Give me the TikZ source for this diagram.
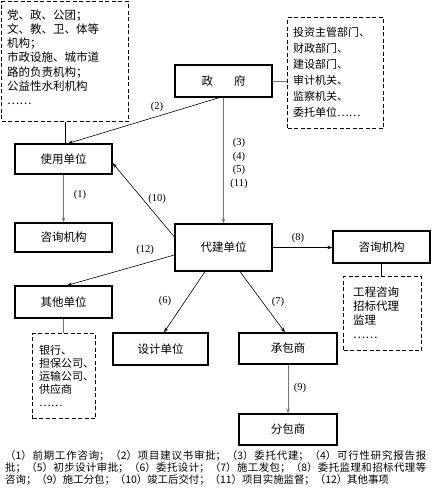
\documentclass[tikz,border=0pt]{standalone}
\usepackage{fontspec}
\setmainfont{Liberation Serif}
\newfontfamily\cjk{Noto Sans CJK SC}
\usetikzlibrary{arrows.meta,calc}
\XeTeXlinebreaklocale "zh"
\XeTeXlinebreakskip = 0pt plus 1pt
\newcommand\capfont{\cjk\fontsize{10.4}{12}\selectfont\lineskiplimit=-20pt\relax}
\tikzset{
  box/.style={draw=black, line width=1.2pt, inner sep=0pt, font=\cjk\fontsize{11.5}{13}\selectfont},
  dbox/.style={draw=black, line width=1.4pt, dash pattern=on 4pt off 2.5pt, inner sep=0pt, anchor=north west},
  dtext/.style={inner sep=0pt, anchor=north west, align=left},
  lab/.style={inner sep=0pt, font=\fontsize{10.5}{12}\selectfont},
  con/.style={draw=black, line width=0.6pt},
  gcon/.style={draw=black!55, line width=0.7pt},
  arr/.style={-{Stealth[length=5pt,width=3.5pt]}},
}
\begin{document}
\begin{tikzpicture}[x=1pt,y=-1pt]
\useasboundingbox (0,0) rectangle (431,494);
% dashed boxes
\node[dbox, minimum width=127pt, minimum height=120pt] (pub) at (1,1) {};
\node[dtext, font=\cjk\fontsize{11.5}{14.2}\selectfont] (pubtxt) at (7,9.5) {党、政、公团；\\文、教、卫、体等\\机构；\\市政设施、城市道\\路的负责机构；\\公益性水利机构\\……};
\node[dbox, minimum width=96pt, minimum height=111pt] (rdash) at (287,17) {};
\node[dtext, font=\cjk\fontsize{11}{16}\selectfont] (rtxt) at (293,27.5) {投资主管部门、\\财政部门、\\建设部门、\\审计机关、\\监察机关、\\委托单位……};
\node[dbox, minimum width=63pt, minimum height=85pt] (odash) at (32,333) {};
\node[dtext, font=\cjk\fontsize{11}{13}\selectfont] (otxt) at (39,345.5) {银行、\\担保公司、\\运输公司、\\供应商\\……};
\node[dbox, minimum width=78pt, minimum height=74pt] (cdash) at (343,276) {};
\node[dtext, font=\cjk\fontsize{11.5}{14}\selectfont] (ctxt) at (353,287) {工程咨询\\招标代理\\监理\\……};
% solid boxes
\node[box, minimum width=97pt, minimum height=32pt] (gov) at (223.5,81) {政\hspace{21pt}府};
\node[box, minimum width=97pt, minimum height=30pt] (user) at (63.5,159) {使用单位};
\node[box, minimum width=97pt, minimum height=29pt] (cons1) at (63.5,237.5) {咨询机构};
\node[box, minimum width=97pt, minimum height=47pt] (agent) at (223.5,247.5) {代建单位};
\node[box, minimum width=97pt, minimum height=32pt] (cons2) at (381.5,247) {咨询机构};
\node[box, minimum width=97pt, minimum height=32pt] (other) at (63.5,302) {其他单位};
\node[box, minimum width=95pt, minimum height=32pt] (design) at (160.5,349) {设计单位};
\node[box, minimum width=98pt, minimum height=31pt] (contr) at (288,348.5) {承包商};
\node[box, minimum width=98pt, minimum height=31pt] (sub) at (288,429.5) {分包商};
% connectors
\draw[con] (pub.south) -- (pub.south |- user.north);
\draw[gcon] (gov.east) -- (gov.east -| rdash.west);
\draw[con, arr] ([xshift=-4pt]gov.south) -- ([xshift=4.5pt]user.north);
\draw[gcon, line width=1.4pt, arr] (gov.south) -- (agent.north);
\draw[gcon, arr] (user.south) -- (cons1.north);
\draw[con, arr] ([yshift=10.5pt]agent.west) -- ([yshift=-4pt]user.east);
\draw[con, arr] ([yshift=-7.5pt]agent.west) -- ([xshift=3.5pt]other.north);
\draw[con, arr] ([xshift=-18.5pt]agent.south) -- ([xshift=3.5pt]design.north);
\draw[con, arr] ([xshift=16.5pt]agent.south) -- ([xshift=-3pt]contr.north);
\draw[con, line width=0.8pt, arr] (agent.east) -- (agent.east -| cons2.west);
\draw[con] (cons2.south) -- (cons2.south |- cdash.north);
\draw[gcon, line width=1.2pt] (other.south) -- (other.south |- odash.north);
\draw[gcon, arr] (contr.south) -- (sub.north);
% labels
\node[lab] (l1) at (80,195) {(1)};
\node[lab] (l2) at (157,107) {(2)};
\node[lab] (l3) at (239,143) {(3)};
\node[lab] (l4) at (239,156.5) {(4)};
\node[lab] (l5) at (239,170) {(5)};
\node[lab] (l11) at (239,183.5) {(11)};
\node[lab] (l10) at (157,199) {(10)};
\node[lab] (l12) at (145,250) {(12)};
\node[lab] (l8) at (298,238) {(8)};
\node[lab] (l6) at (165,301) {(6)};
\node[lab] (l7) at (278,302) {(7)};
\node[lab] (l9) at (300,388) {(9)};
% caption
\node[inner sep=0pt, anchor=north west, text width=421pt, align=justify, font=\capfont] (cap) at (5,450) {（1）前期工作咨询；（2）项目建议书审批；（3）委托代建；（4）可行性研究报告报\linebreak 批；（5）初步设计审批；（6）委托设计；（7）施工发包；（8）委托监理和招标代理等\linebreak 咨询；（9）施工分包；（10）竣工后交付；（11）项目实施监督；（12）其他事项};
\end{tikzpicture}
\end{document}
